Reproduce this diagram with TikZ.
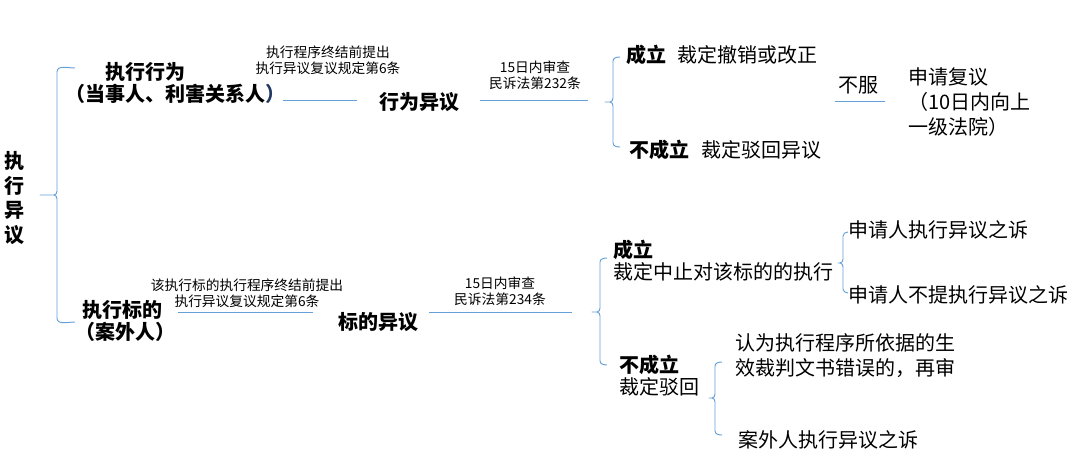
\documentclass[tikz,border=0pt]{standalone}
\usepackage{fontspec}
\setmainfont{Noto Sans CJK SC}
\definecolor{lineblue}{RGB}{100,160,215}
\definecolor{darkblue}{RGB}{31,56,100}
\newcommand{\bracepath}[6]{%
  \draw[brace] (#1+#6,#2) to[out=180,in=90] (#1,#2+4) -- (#1,#5-4)
    to[out=-90,in=0] (#1-3,#5) -- (#4,#5) -- (#1-3,#5) to[out=0,in=90] (#1,#5+4) -- (#1,#3-4)
    to[out=-90,in=180] (#1+#6,#3);}
\begin{document}
\begin{tikzpicture}[x=0.75pt,y=-0.75pt,
  every node/.style={inner sep=0pt,outer sep=0pt},
  main/.style={font=\fontsize{15}{18.75}\selectfont},
  bmain/.style={font=\fontsize{15}{18.4}\selectfont\bfseries},
  small/.style={font=\fontsize{10.3}{12.2}\selectfont,align=center},
  conn/.style={draw=lineblue,line width=0.7pt},
  brace/.style={draw=lineblue,line width=0.7pt,line join=round}]
\useasboundingbox (0,0) rectangle (1080,470);

% root
\node[bmain,align=center] (root) at (14,198) {执\\行\\异\\议};
\bracepath{57}{68}{322}{40}{195}{18}

% upper branch
\node[bmain] (xw1) at (145,72) {执行行为};
\node[bmain] (xw2) at (175,94) {（当事人、利害关系人\textcolor{darkblue}{）}};
\node[small] (lab1) at (328,60.5) {执行程序终结前提出\\执行异议复议规定第6条};
\node[bmain] (xwyy) at (419,102) {行为异议};
\node[small] (lab2) at (535,75) {15日内审查\\民诉法第232条};
\coordinate (l1a) at (283,100);
\coordinate (l1b) at (357,100);
\coordinate (l2a) at (480,100);
\coordinate (l2b) at (588,100);
\draw[conn] (l1a) -- (l1b);
\draw[conn] (l2a) -- (l2b);
\bracepath{613}{57}{147}{605}{102}{7}

\node[bmain,anchor=west] (cl1) at (626,55) {成立};
\node[main,anchor=west] (cl1t) at (677,55) {裁定撤销或改正};
\node[bmain,anchor=west] (bcl1) at (629,150) {不成立};
\node[main,anchor=west] (bcl1t) at (701,150) {裁定驳回异议};
\node[main] (bf) at (858,85) {不服};
\coordinate (l3a) at (835,101);
\coordinate (l3b) at (885,101);
\draw[conn] (l3a) -- (l3b);
\node[main,anchor=west,align=left] (fy) at (908,102) {申请复议\\（10日内向上\\一级法院）};

% lower branch
\node[bmain] (bd1) at (122,310) {执行标的};
\node[bmain] (bd2) at (125,332) {（案外人）};
\node[small] (lab3) at (247,293) {该执行标的执行程序终结前提出\\执行异议复议规定第6条};
\node[bmain] (bdyy) at (378,322) {标的异议};
\node[small] (lab4) at (500,291.5) {15日内审查\\民诉法第234条};
\coordinate (l4a) at (178,312);
\coordinate (l4b) at (313,312);
\coordinate (l5a) at (429,312);
\coordinate (l5b) at (572,312);
\draw[conn] (l4a) -- (l4b);
\draw[conn] (l5a) -- (l5b);
\bracepath{600}{258}{365}{592}{312}{7}

\node[bmain,anchor=west] (cl2) at (613,250) {成立};
\node[main,anchor=west] (cl2t) at (613,272) {裁定中止对该标的的执行};
\bracepath{843}{232}{293}{838}{263}{5}
\node[main,anchor=west] (s1) at (848,230) {申请人执行异议之诉};
\node[main,anchor=west] (s2) at (848,295) {申请人不提执行异议之诉};

\node[bmain,anchor=west] (bcl2) at (619,365) {不成立};
\node[main,anchor=west] (bcl2t) at (619,387) {裁定驳回};
\bracepath{715}{362}{435}{709}{398}{7}
\node[main,anchor=west,align=left] (zs) at (735,355.5) {认为执行程序所依据的生\\效裁判文书错误的，再审};
\node[main,anchor=west] (aw) at (738,440) {案外人执行异议之诉};
\end{tikzpicture}
\end{document}
